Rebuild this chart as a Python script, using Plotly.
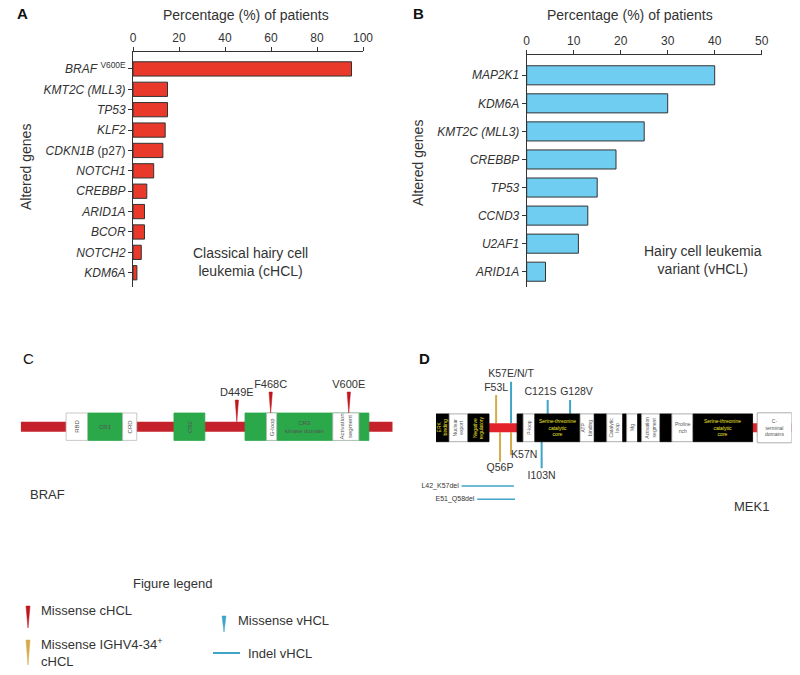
import plotly.graph_objects as go

W, H = 800, 675
FONT = "Arial, Liberation Sans, sans-serif"
INK = "#333333"

# ---- Panel A: classical hairy cell leukemia ----
genes_a = ["BRAF", "KMT2C (MLL3)", "TP53", "KLF2", "CDKN1B (p27)", "NOTCH1",
           "CREBBP", "ARID1A", "BCOR", "NOTCH2", "KDM6A"]
ticks_a = ["<i>BRAF</i> <sup>V600E</sup>", "<i>KMT2C (MLL3)</i>", "<i>TP53</i>", "<i>KLF2</i>",
           "<i>CDKN1B</i> (p27)", "<i>NOTCH1</i>", "<i>CREBBP</i>", "<i>ARID1A</i>",
           "<i>BCOR</i>", "<i>NOTCH2</i>", "<i>KDM6A</i>"]
pct_a = [95, 15, 15, 14, 13, 9, 6, 5, 5, 3.6, 1.7]

# ---- Panel B: hairy cell leukemia variant ----
genes_b = ["MAP2K1", "KDM6A", "KMT2C (MLL3)", "CREBBP", "TP53", "CCND3", "U2AF1", "ARID1A"]
ticks_b = ["<i>%s</i>" % g for g in genes_b]
pct_b = [40, 30, 25, 19, 15, 13, 11, 4]

# ---- Panel C: BRAF protein (positions in % of drawn length) ----
braf_dom_name = ["RBD", "CR1", "CRD", "CR2", "CR3<br>kinase domain", "G-loop", "Activation<br>segment"]
braf_dom_start = [12.2, 18.1, 27.4, 41.2, 60.3, 66.1, 83.9]
braf_dom_end = [18.1, 27.4, 31.2, 49.5, 93.6, 68.8, 90.9]
braf_dom_fill = ["white", "green", "white", "green", "green", "white", "white"]
braf_mut_name = ["D449E", "F468C", "V600E"]
braf_mut_pos = [58.1, 67.2, 88.2]

# ---- Panel D: MEK1 protein (positions in % of drawn length) ----
mek_dom_name = ["ERK<br>binding", "Nuclear<br>export", "Negative<br>regulatory", "", "P-loop",
                "Serine-threonine<br>catalytic<br>core", "ATP<br>binding", "", "Catalytic<br>loop", "",
                "Mg", "", "Activation<br>segment", "", "Proline<br>rich",
                "Serine-threonine<br>catalytic<br>core", "C-<br>terminal<br>domains"]
mek_dom_start = [0, 3.7, 9.0, 22.8, 24.5, 27.8, 40.5, 44.5, 48.0, 52.5, 53.6, 56.7, 57.8, 63.0, 66.3, 72.3, 90.3]
mek_dom_end = [3.7, 9.0, 14.9, 24.5, 27.8, 40.5, 44.5, 48.0, 52.5, 53.6, 56.7, 57.8, 63.0, 66.3, 72.3, 89.0, 100]
mek_dom_fill = ["black", "white", "black", "black", "white", "black", "white", "black", "white", "black",
                "white", "black", "white", "black", "white", "black", "white"]
mek_mut_name = ["F53L", "K57E/N/T", "C121S", "G128V", "Q56P", "K57N", "I103N"]
mek_mut_pos = [16.9, 21.1, 31.4, 37.7, 18.0, 21.1, 29.7]
mek_mut_group = ["IGHV4-34+ cHCL", "vHCL", "vHCL", "vHCL", "IGHV4-34+ cHCL", "IGHV4-34+ cHCL", "vHCL"]
mek_indel_name = ["L42_K57del", "E51_Q58del"]
mek_indel_start = [7.2, 11.6]
mek_indel_end = [21.9, 22.2]

# colours
RED_BAR = "#e8392b"
BLUE_BAR = "#70cdf2"
GREEN = "#2aa84a"
BRAF_RED = "#c4212b"
MEK_RED = "#e3222b"
MUT_COL = {"cHCL": "#c0141e", "IGHV4-34+ cHCL": "#d6aa4a", "vHCL": "#3fa4c8"}

# stem styling: (start, end, label y) in px relative to the protein axis
braf_stem = {"D449E": (5, 26.7, 33.7), "F468C": (13.7, 34.7, 41.7), "V600E": (13.7, 34.7, 41.7)}
mek_stem = {"F53L": (4.5, 32.8, 39.8), "K57E/N/T": (4.5, 46.1, 53.0), "C121S": (13.9, 27.8, 35.1),
            "G128V": (13.9, 27.8, 35.1), "Q56P": (-4.5, -33.9, -40.5), "K57N": (-4.5, -27.2, -28.0),
            "I103N": (-13.9, -40.5, -48.9)}
mek_label_dx = {"C121S": -2.0, "G128V": 1.8}
mek_label_pos = {"K57N": "middle right"}
indel_y = [-58.2, -71.5]


def px(x):
    return x / W


def py(y):
    return 1 - y / H


fig = go.Figure()

fig.add_trace(go.Bar(x=pct_a, y=genes_a, orientation="h", width=0.7,
                     marker=dict(color=RED_BAR, line=dict(color=INK, width=1)),
                     xaxis="x", yaxis="y", showlegend=False))
fig.add_trace(go.Bar(x=pct_b, y=genes_b, orientation="h", width=0.68,
                     marker=dict(color=BLUE_BAR, line=dict(color=INK, width=1)),
                     xaxis="x2", yaxis="y2", showlegend=False))

shapes = []
annotations = []

# ---------- BRAF schematic ----------
shapes.append(dict(type="rect", xref="x3", yref="y3", x0=0, x1=100, y0=-5, y1=5,
                   fillcolor=BRAF_RED, line=dict(width=0), layer="above"))
angles_c = [-90, 0, -90, -90, 0, -90, -90]
for i, name in enumerate(braf_dom_name):
    fill = GREEN if braf_dom_fill[i] == "green" else "white"
    shapes.append(dict(type="rect", xref="x3", yref="y3", x0=braf_dom_start[i], x1=braf_dom_end[i],
                       y0=-13.7, y1=13.7, fillcolor=fill,
                       line=dict(color="#bbbbbb" if fill == "white" else GREEN, width=0.8)))
for i, name in enumerate(braf_dom_name):
    xc = (braf_dom_start[i] + braf_dom_end[i]) / 2
    if i == 4:
        xc = (braf_dom_end[5] + braf_dom_start[6]) / 2
    annotations.append(dict(x=xc, y=0, xref="x3", yref="y3", text=name, showarrow=False,
                            xanchor="center", yanchor="middle",
                            textangle=angles_c[i], font=dict(family=FONT, size=6, color="#555555")))
for i, name in enumerate(braf_mut_name):
    y0, y1, _ = braf_stem[name]
    x = braf_mut_pos[i]
    shapes.append(dict(type="path", xref="x3", yref="y3",
                       path=f"M {x - 0.45},{y1} L {x + 0.45},{y1} L {x},{y0} Z",
                       fillcolor=MUT_COL["cHCL"], line=dict(color=MUT_COL["cHCL"], width=0.5)))
fig.add_trace(go.Scatter(x=braf_mut_pos, y=[braf_stem[n][2] for n in braf_mut_name], mode="text",
                         text=braf_mut_name, textfont=dict(family=FONT, size=11, color=INK),
                         cliponaxis=False,
                         xaxis="x3", yaxis="y3", showlegend=False, hoverinfo="skip"))

# ---------- MEK1 schematic ----------
shapes.append(dict(type="rect", xref="x4", yref="y4", x0=0, x1=100, y0=-4.5, y1=4.5,
                   fillcolor=MEK_RED, line=dict(width=0)))
angles_d = [-90, -90, -90, 0, -90, 0, -90, 0, -90, 0, -90, 0, -90, 0, 0, 0, 0]
for i, name in enumerate(mek_dom_name):
    fill = mek_dom_fill[i]
    tall = 15 if i == len(mek_dom_name) - 1 else 13.9
    shapes.append(dict(type="rect", xref="x4", yref="y4", x0=mek_dom_start[i], x1=mek_dom_end[i],
                       y0=-tall, y1=tall, fillcolor=fill,
                       line=dict(color="#999999" if fill == "white" else "black", width=0.8)))
    if name:
        annotations.append(dict(x=(mek_dom_start[i] + mek_dom_end[i]) / 2, y=0, xref="x4", yref="y4",
                                text=name, showarrow=False, textangle=angles_d[i],
                                xanchor="center", yanchor="middle",
                                font=dict(family=FONT, size=5,
                                          color="#f2e62e" if fill == "black" else "#555555")))

for i, name in enumerate(mek_mut_name):
    y0, y1, _ = mek_stem[name]
    fig.add_trace(go.Scatter(x=[mek_mut_pos[i], mek_mut_pos[i]], y=[y0, y1], mode="lines",
                             line=dict(color=MUT_COL[mek_mut_group[i]], width=2),
                             xaxis="x4", yaxis="y4", showlegend=False, hoverinfo="skip"))
fig.add_trace(go.Scatter(x=[mek_mut_pos[i] + mek_label_dx.get(n, 0) for i, n in enumerate(mek_mut_name)],
                         y=[mek_stem[n][2] for n in mek_mut_name], mode="text", text=mek_mut_name,
                         textposition=[mek_label_pos.get(n, "middle center") for n in mek_mut_name],
                         textfont=dict(family=FONT, size=10.5, color=INK), cliponaxis=False,
                         xaxis="x4", yaxis="y4", showlegend=False, hoverinfo="skip"))
for i, name in enumerate(mek_indel_name):
    fig.add_trace(go.Scatter(x=[mek_indel_start[i], mek_indel_end[i]], y=[indel_y[i], indel_y[i]],
                             mode="lines", line=dict(color=MUT_COL["vHCL"], width=1.5),
                             xaxis="x4", yaxis="y4", showlegend=False, hoverinfo="skip"))
fig.add_trace(go.Scatter(x=[s - 0.8 for s in mek_indel_start], y=indel_y, mode="text", text=mek_indel_name,
                         textposition="middle left", textfont=dict(family=FONT, size=7, color=INK),
                         cliponaxis=False,
                         xaxis="x4", yaxis="y4", showlegend=False, hoverinfo="skip"))

# ---------- figure legend glyphs ----------
def pin(xc, ytop, ybot, color, hw=2):
    return dict(type="path", xref="paper", yref="paper",
                path=f"M {px(xc - hw)},{py(ytop)} L {px(xc + hw)},{py(ytop)} L {px(xc)},{py(ybot)} Z",
                fillcolor=color, line=dict(color=color, width=0.5))


shapes.append(pin(28, 606, 628, MUT_COL["cHCL"]))
shapes.append(pin(28, 640, 665, MUT_COL["IGHV4-34+ cHCL"]))
shapes.append(pin(224, 616, 632, MUT_COL["vHCL"]))
shapes.append(dict(type="line", xref="paper", yref="paper", x0=px(213), x1=px(240), y0=py(653), y1=py(653),
                   line=dict(color=MUT_COL["vHCL"], width=2)))


def text(x, y, s, size=13, **kw):
    d = dict(x=px(x), y=py(y), xref="paper", yref="paper", text=s, showarrow=False,
             xanchor="center", yanchor="middle",
             font=dict(family=FONT, size=size, color=kw.pop("color", INK)))
    d.update(kw)
    annotations.append(d)


text(22, 14, "<b>A</b>", 15, color="#111111")
text(418, 14, "<b>B</b>", 15, color="#111111")
text(28, 358, "C", 15, color="#111111")
text(424, 359, "<b>D</b>", 15, color="#111111")
text(246, 15, "Percentage (%) of patients", 14)
text(630, 15, "Percentage (%) of patients", 14)
text(26, 167, "Altered genes", 14, textangle=-90)
text(418, 163, "Altered genes", 14, textangle=-90)
text(250, 262, "Classical hairy cell<br>leukemia (cHCL)", 14)
text(703, 260, "Hairy cell leukemia<br>variant (vHCL)", 14)
text(47, 494, "BRAF", 13)
text(751, 506, "MEK1", 13)
text(173, 583, "Figure legend", 13)
text(39, 610, "Missense cHCL", 13, xanchor="left")
text(39, 652, "Missense IGHV4-34<sup>+</sup><br>cHCL", 13, xanchor="left", align="left")
text(236, 620, "Missense vHCL", 13, xanchor="left")
text(246, 653, "Indel vHCL", 13, xanchor="left")

axis_common = dict(showline=True, linecolor=INK, linewidth=1, ticks="outside", tickcolor=INK,
                   ticklen=4, showgrid=False, zeroline=False, automargin=False,
                   tickfont=dict(family=FONT, size=12, color=INK))

fig.update_layout(
    width=W, height=H, margin=dict(l=0, r=0, t=0, b=0),
    template="none", paper_bgcolor="white", plot_bgcolor="white",
    font=dict(family=FONT, color=INK), showlegend=False,
    xaxis=dict(axis_common, domain=[px(133), px(363)], range=[0, 100], dtick=20, side="top", anchor="y"),
    yaxis=dict(axis_common, domain=[py(287), py(52)], type="category", categoryarray=genes_a,
               tickvals=genes_a, ticktext=ticks_a, range=[10.7, -0.83], anchor="x"),
    xaxis2=dict(axis_common, domain=[px(526.7), px(761.7)], range=[0, 50], dtick=10, side="top", anchor="y2"),
    yaxis2=dict(axis_common, domain=[py(287), py(55)], type="category", categoryarray=genes_b,
                tickvals=genes_b, ticktext=ticks_b, range=[7.545, -0.723], anchor="x2"),
    xaxis3=dict(domain=[px(20.7), px(392.7)], range=[0, 100], visible=False, anchor="y3"),
    yaxis3=dict(domain=[py(470), py(350)], range=[-43.3, 76.7], visible=False, anchor="x3"),
    xaxis4=dict(domain=[px(436), px(791.7)], range=[0, 100], visible=False, anchor="y4"),
    yaxis4=dict(domain=[py(515), py(350)], range=[-87.2, 77.8], visible=False, anchor="x4"),
    shapes=shapes, annotations=annotations,
)

fig.write_html("out.html", config={"displayModeBar": False},
               post_script="document.body.style.margin='0px';")
